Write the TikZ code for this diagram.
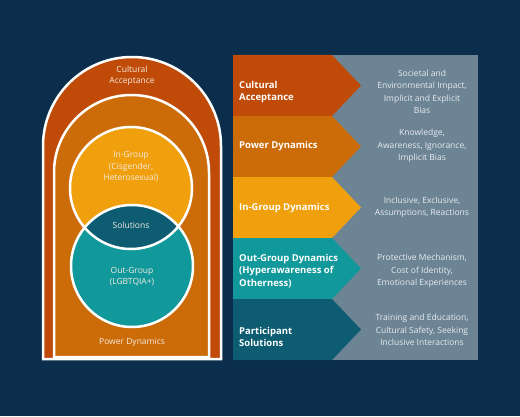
\documentclass[tikz,border=0pt]{standalone}
\usepackage{fontspec}
\setmainfont{Open Sans}
\usetikzlibrary{positioning}
\definecolor{bg}{HTML}{0A2E4B}
\definecolor{rust}{HTML}{C04A07}
\definecolor{burnt}{HTML}{CC6C08}
\definecolor{amber}{HTML}{F0A00C}
\definecolor{teal}{HTML}{10989A}
\definecolor{deepteal}{HTML}{0D5C72}
\definecolor{slate}{HTML}{6D8495}
\definecolor{cream}{HTML}{F4EAE0}
\definecolor{desc}{HTML}{E6ECEF}
\tikzstyle{ring} = [draw=white, line width=2.5pt]
\tikzstyle{archtext} = [align=center, text=cream, font=\fontsize{8.5}{11.5}\selectfont]
\tikzstyle{rowtitle} = [anchor=west, align=left, text=white, font=\bfseries\fontsize{9.5}{12.5}\selectfont]
\tikzstyle{rowtext} = [align=center, text=desc, font=\fontsize{8.5}{12.5}\selectfont]

\begin{document}
\begin{tikzpicture}[x=1pt, y=1pt, every node/.style={inner sep=0pt}]
        \fill[bg] (0,0) rectangle (520,416);

        % Arches
        \draw[ring, fill=rust] (43,57) -- (43,270) arc[start angle=180, end angle=0, radius=89] -- (221,57) -- cycle;
        \draw[ring, fill=burnt] (54,59) -- (54,243.5) arc[start angle=180, end angle=0, radius=77.5] -- (209,59) -- cycle;

        % Circles
        \fill[amber] (131,228) circle[radius=61];
        \fill[teal] (132,150) circle[radius=61];
        \begin{scope}
          \clip (131,228) circle[radius=61];
          \fill[deepteal] (132,150) circle[radius=61];
        \end{scope}
        \draw[ring] (131,228) circle[radius=61];
        \draw[ring] (132,150) circle[radius=61];

        % Node positions
        \node[archtext] (CA) at (132,340) {Cultural\\Acceptance};
        \node[archtext] (IG) at (131,249) {In-Group\\(Cisgender,\\Heterosexual)};
        \node[archtext] (SO) at (131,191) {Solutions};
        \node[archtext] (OG) at (132,139.5) {Out-Group\\(LGBTQIA+)};
        \node[archtext] (PD) at (132,74) {Power Dynamics};

        % Chevrons
        \fill[slate] (233,56) rectangle (478,361);
        \fill[rust] (233,361) -- (332,361) -- (361,330.5) -- (332,300) -- (233,300) -- cycle;
        \fill[burnt] (233,300) -- (332,300) -- (361,269.5) -- (332,239) -- (233,239) -- cycle;
        \fill[amber] (233,239) -- (332,239) -- (361,208.5) -- (332,178) -- (233,178) -- cycle;
        \fill[teal] (233,178) -- (332,178) -- (361,147.5) -- (332,117) -- (233,117) -- cycle;
        \fill[deepteal] (233,117) -- (332,117) -- (361,86.5) -- (332,56) -- (233,56) -- cycle;

        \node[rowtitle] (A) at (239,324) {Cultural\\Acceptance};
        \node[rowtitle] (B) at (239,270) {Power Dynamics};
        \node[rowtitle] (C) at (239,208) {In-Group Dynamics};
        \node[rowtitle] (D) at (239,145) {Out-Group Dynamics\\(Hyperawareness of\\Otherness)};
        \node[rowtitle] (E) at (239,79) {Participant\\Solutions};

        \node[rowtext] (A1) at (422,324) {Societal and\\Environmental Impact,\\Implicit and Explicit\\Bias};
        \node[rowtext] (B1) at (422,270) {Knowledge,\\Awareness, Ignorance,\\Implicit Bias};
        \node[rowtext] (C1) at (422,208.5) {Inclusive, Exclusive,\\Assumptions, Reactions};
        \node[rowtext] (D1) at (422,145) {Protective Mechanism,\\Cost of Identity,\\Emotional Experiences};
        \node[rowtext] (E1) at (422,86) {Training and Education,\\Cultural Safety, Seeking\\Inclusive Interactions};
\end{tikzpicture}
\end{document}
